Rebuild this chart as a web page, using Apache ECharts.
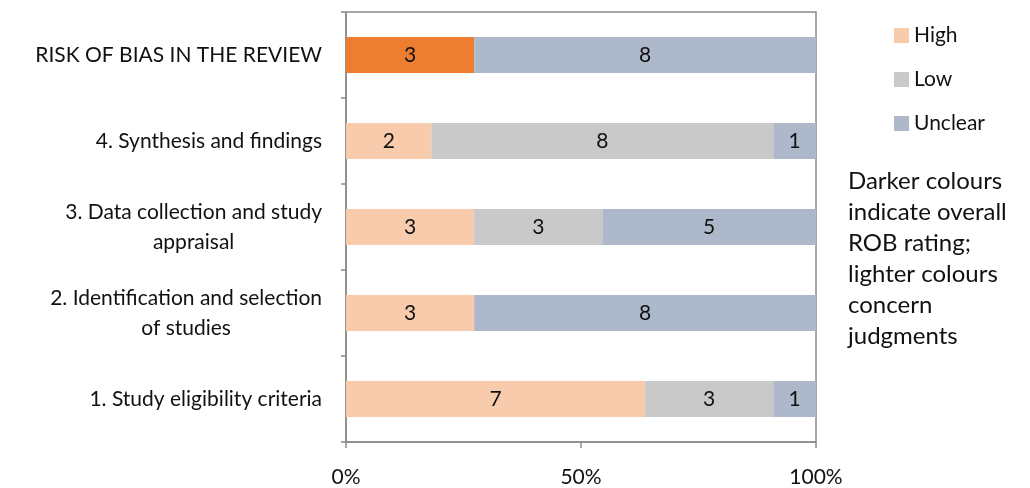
<!DOCTYPE html>
<html>
<head>
<meta charset="utf-8">
<script src="https://cdn.jsdelivr.net/npm/echarts@6/dist/echarts.min.js"></script>
<style>
  html, body { margin:0; padding:0; background:#fff; }
  #root { width:1030px; height:488px; }
</style>
</head>
<body>
<div id="root"></div>
<script>
// rows from bottom to top
var categories = [
  '1. Study eligibility criteria',
  '2. Identification and selection\nof studies',
  '3. Data collection and study\nappraisal',
  '4. Synthesis and findings',
  'RISK OF BIAS IN THE REVIEW'
];
var highCounts = [7, 3, 3, 2, 3];
var lowCounts = [3, 0, 3, 8, 0];
var unclearCounts = [1, 8, 5, 1, 8];
var xTicks = [0, 50, 100];
var overallRow = 4; // the darker overall rating row

var fontName = 'Lato, "Open Sans", sans-serif';
var totals = categories.map(function (c, i) {
  return highCounts[i] + lowCounts[i] + unclearCounts[i];
});

function toItems(counts, darkColor) {
  return counts.map(function (n, i) {
    var item = { value: n / totals[i] * 100, count: n };
    if (darkColor && i === overallRow) item.itemStyle = { color: darkColor };
    return item;
  });
}

var barLabel = {
  show: true,
  position: 'inside',
  color: '#111',
  fontSize: 21,
  fontFamily: fontName,
  formatter: function (p) { return p.data.count ? String(p.data.count) : ''; }
};

const myChart = echarts.init(document.getElementById('root'));
const option = {
  animation: false,
  textStyle: { fontFamily: fontName },
  grid: {
    left: 346, right: 214, top: 12, bottom: 46,
    show: true, borderColor: '#8a8a8a', borderWidth: 1.5
  },
  legend: {
    orient: 'vertical',
    left: 889, top: 20,
    itemWidth: 15, itemHeight: 15, itemGap: 23,
    icon: 'rect',
    textStyle: { fontSize: 21, color: '#111', fontFamily: fontName },
    data: ['High', 'Low', 'Unclear']
  },
  xAxis: {
    type: 'value',
    min: 0, max: 100, interval: 50,
    axisLine: { show: true, lineStyle: { color: '#8a8a8a', width: 1.5 } },
    axisTick: { show: true, length: 6, lineStyle: { color: '#8a8a8a', width: 1.5 } },
    splitLine: { show: false },
    axisLabel: {
      margin: 25, fontSize: 21, color: '#111',
      formatter: function (v) { return xTicks.indexOf(v) >= 0 ? v + '%' : ''; }
    }
  },
  yAxis: {
    type: 'category',
    data: categories,
    axisLine: { show: true, lineStyle: { color: '#8a8a8a', width: 1.5 } },
    axisTick: { show: true, length: 5, lineStyle: { color: '#8a8a8a', width: 1.5 } },
    axisLabel: {
      margin: 24,
      fontSize: 21,
      color: '#111',
      lineHeight: 30,
      formatter: function (v) {
        var parts = v.split('\n');
        if (parts.length === 1) return '{a|' + parts[0] + '}';
        return '{a|' + parts[0] + '}\n{c|' + parts[1] + '}';
      },
      rich: {
        a: { fontSize: 21, color: '#111', align: 'right', lineHeight: 30 },
        c: { fontSize: 21, color: '#111', align: 'center', lineHeight: 30 }
      }
    }
  },
  graphic: [{
    type: 'text',
    left: 848, top: 166,
    style: {
      text: 'Darker colours\nindicate overall\nROB rating;\nlighter colours\nconcern\njudgments',
      fontSize: 24, lineHeight: 31, fill: '#111', fontFamily: fontName
    }
  }],
  series: [
    { name: 'High', type: 'bar', stack: 'rob', barWidth: 36,
      itemStyle: { color: '#F8CBAD' }, label: barLabel,
      data: toItems(highCounts, '#ED7D31') },
    { name: 'Low', type: 'bar', stack: 'rob', barWidth: 36,
      itemStyle: { color: '#C9C9C9' }, label: barLabel,
      data: toItems(lowCounts) },
    { name: 'Unclear', type: 'bar', stack: 'rob', barWidth: 36,
      itemStyle: { color: '#ADB9CA' }, label: barLabel,
      data: toItems(unclearCounts) }
  ]
};
option && myChart.setOption(option);
</script>
</body>
</html>
